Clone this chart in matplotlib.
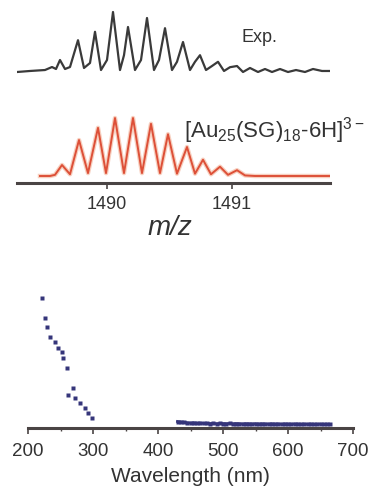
import numpy as np
import matplotlib.pyplot as plt
from matplotlib.ticker import MultipleLocator

plt.rcParams['font.family'] = ['Liberation Sans', 'DejaVu Sans']
plt.rcParams['mathtext.fontset'] = 'custom'
plt.rcParams['mathtext.rm'] = 'Liberation Sans'
plt.rcParams['mathtext.it'] = 'Liberation Sans:italic'

# experimental mass spectrum (relative intensity, %)
exp_mz = [1489.280, 1489.384, 1489.504, 1489.560, 1489.592, 1489.624, 1489.664,
          1489.704, 1489.768, 1489.816, 1489.864, 1489.904, 1489.952, 1490.000,
          1490.048, 1490.104, 1490.136, 1490.168, 1490.224, 1490.272, 1490.320,
          1490.376, 1490.416, 1490.464, 1490.520, 1490.560, 1490.608, 1490.664,
          1490.704, 1490.744, 1490.792, 1490.840, 1490.888, 1490.936, 1490.984,
          1491.040, 1491.088, 1491.144, 1491.208, 1491.264, 1491.320, 1491.384,
          1491.448, 1491.512, 1491.584, 1491.648, 1491.720, 1491.784]
exp_int = [0, 1.7, 3.3, 8.3, 5, 20, 5, 8.3, 53, 6.7, 15, 67, 3.3, 20, 100, 3.3,
           28, 75, 3.3, 20, 90, 3.3, 20, 73, 3.3, 17, 50, 3.3, 17, 28, 3.3, 10,
           17, 1.7, 8, 10, 0, 6.7, 0, 5, 0, 5, 0, 3.3, 0, 5, 1.7, 1.7]

# simulated isotope pattern of [Au25(SG)18-6H]3-
sim_mz = [1489.464, 1489.544, 1489.584, 1489.640, 1489.704, 1489.776, 1489.848,
          1489.928, 1489.992, 1490.064, 1490.136, 1490.208, 1490.280, 1490.352,
          1490.424, 1490.488, 1490.560, 1490.640, 1490.704, 1490.768, 1490.832,
          1490.904, 1490.968, 1491.040, 1491.104, 1491.184, 1491.784]
sim_int = [0, 0, 2, 19, 3, 62, 5, 83, 5, 100, 5, 100, 5, 90, 5, 72, 4, 50, 4,
           28, 3, 16, 2, 10, 1, 0, 0]

# UV-vis absorption (a.u.)
uv_nm = [221.5, 226.2, 229.2, 233.8, 241.5, 246.2, 252.3, 253.8, 260.0, 269.2,
         261.5, 272.3, 280.0, 287.7, 292.3, 298.5]
uv_abs = [1.0, 0.846, 0.777, 0.70, 0.662, 0.615, 0.585, 0.538, 0.462, 0.308,
          0.254, 0.231, 0.192, 0.154, 0.115, 0.077]
vis_nm = np.arange(430, 670, 5)
vis_abs = [0.050, 0.046, 0.044, 0.040, 0.038, 0.040, 0.036, 0.038, 0.035, 0.036,
           0.034, 0.036, 0.033, 0.035, 0.034, 0.033, 0.035, 0.032, 0.034, 0.033,
           0.031, 0.033, 0.032, 0.031, 0.033, 0.030, 0.032, 0.031, 0.030, 0.032,
           0.030, 0.031, 0.029, 0.031, 0.030, 0.029, 0.031, 0.030, 0.028, 0.030,
           0.029, 0.030, 0.028, 0.029, 0.030, 0.028, 0.029, 0.028]

W, H = 372, 487
fig = plt.figure(figsize=(W / 100, H / 100), dpi=100)

axis_col = '#4a4444'
text_col = '#333333'

# ---- mass spectrum ----
ax1 = fig.add_axes([17 / W, 1 - 183 / H, 313 / W, 183 / H])
ax1.plot(exp_mz, 111 + 0.60 * np.array(exp_int), color='#3a3a3a', lw=1.6,
         solid_joinstyle='round')
ax1.plot(sim_mz, 7 + 0.58 * np.array(sim_int), color='#f0a080', lw=3.2,
         alpha=0.5, solid_joinstyle='round')
ax1.plot(sim_mz, 7 + 0.58 * np.array(sim_int), color='#dd5038', lw=1.4,
         solid_joinstyle='round')
ax1.set_xlim(1489.28, 1491.784)
ax1.set_ylim(0, 183)
ax1.set_xticks([1490, 1491])
ax1.tick_params(axis='x', length=4, width=1.2, color=axis_col, pad=5,
                labelsize=13, labelcolor=text_col)
ax1.yaxis.set_visible(False)
for s in ['top', 'left', 'right']:
    ax1.spines[s].set_visible(False)
ax1.spines['bottom'].set_color(axis_col)
ax1.spines['bottom'].set_linewidth(2.2)
ax1.patch.set_alpha(0)

fig.text(259 / W, 1 - 37 / H, 'Exp.', fontsize=13, color=text_col,
         ha='center', va='center')
fig.text(184 / W, 1 - 131 / H, r'[Au$_{25}$(SG)$_{18}$-6H]$^{3-}$',
         fontsize=16, color=text_col, ha='left', va='center')
fig.text(170 / W, 1 - 228 / H, 'm/z', fontsize=20, style='italic',
         color=text_col, ha='center', va='center')

# ---- absorption spectrum ----
ax2 = fig.add_axes([28 / W, 1 - 428 / H, 325 / W, 140 / H])
ax2.plot(uv_nm, uv_abs, 's', color='#35357a', ms=2.8, mec='none')
ax2.plot(vis_nm, vis_abs, 's-', color='#35357a', ms=2.8, lw=2, mec='none')
ax2.set_xlim(200, 700)
ax2.set_ylim(0, 140 / 130)
ax2.xaxis.set_major_locator(MultipleLocator(100))
ax2.xaxis.set_minor_locator(MultipleLocator(50))
ax2.tick_params(axis='x', which='major', length=4, width=1.2, color=axis_col,
                pad=7, labelsize=13.5, labelcolor=text_col)
ax2.tick_params(axis='x', which='minor', length=2.5, width=1, color=axis_col)
ax2.yaxis.set_visible(False)
for s in ['top', 'left', 'right']:
    ax2.spines[s].set_visible(False)
ax2.spines['bottom'].set_color(axis_col)
ax2.spines['bottom'].set_linewidth(2.2)
ax2.patch.set_alpha(0)

fig.text(190.5 / W, 1 / H, 'Wavelength (nm)', fontsize=15,
         color=text_col, ha='center', va='bottom')

fig.savefig('out.png', dpi=100)
